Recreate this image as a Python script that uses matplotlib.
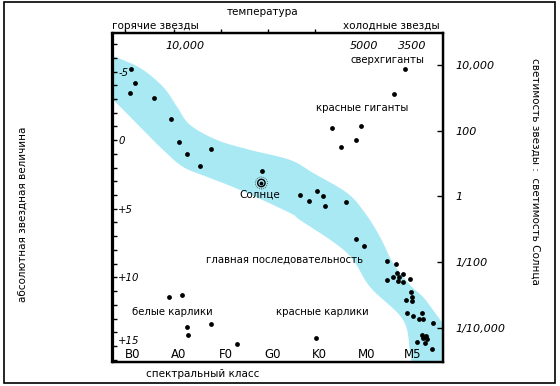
import matplotlib
matplotlib.use("Agg")
import matplotlib.pyplot as plt
from matplotlib.patches import Rectangle
import numpy as np

plt.rcParams['font.family'] = ['DejaVu Sans']

# ---------------- data ----------------
spectral_classes = ["B0", "A0", "F0", "G0", "K0", "M0", "M5"]
spectral_pos = [0, 1, 2, 3, 4, 5, 6]

mag_ticks = [-5, 0, 5, 10, 15]
mag_labels = ["-5", "0", "+5", "+10", "+15"]

lum_values = [1e4, 1e2, 1.0, 1e-2, 1e-4]
lum_labels = ["10,000", "100", "1", "1/100", "1/10,000"]

temp_labels = ["10,000", "5000", "3500"]
temp_pos = [1.13, 4.95, 5.98]
top_tick_pos = [-0.15, 0.9, 1.9, 2.9, 3.9]

# main-sequence band edges (spectral index, abs. magnitude)
band_upper_x = [-0.6, -0.406, 0.171, 0.662, 0.961, 1.238, 1.815, 2.52, 3.374,
                3.865, 4.591, 4.975, 5.296, 5.573, 5.936, 6.214, 6.427, 6.75]
band_upper_y = [-6.5, -6.14, -5.26, -3.88, -2.42, -1.11, -0.01, 0.71, 1.44,
                2.39, 3.85, 5.31, 7.06, 8.95, 10.55, 11.43, 12.38, 13.9]
band_lower_x = [-0.6, -0.406, 0.171, 0.662, 1.089, 1.602, 2.306, 3.374, 3.587,
                4.591, 5.082, 5.787, 5.936, 6.0]
band_lower_y = [-3.3, -2.93, -0.96, 0.71, 1.95, 2.68, 3.63, 5.31, 5.82,
                8.22, 10.70, 13.10, 15.51, 17.0]

# stars: spectral index, absolute magnitude
star_x = [-0.02, 0.06, -0.04, 0.47, 0.83, 1.00, 1.17, 1.69, 1.45, 2.78,
          5.83, 5.59, 4.27, 4.89, 4.78, 4.46,
          3.59, 3.78, 3.95, 4.08, 4.13, 4.57, 4.78, 4.95,
          5.45, 5.64, 5.66, 5.57, 5.70, 5.79, 5.45, 5.68, 5.79, 5.94,
          5.96, 5.98, 5.85, 5.98, 5.87, 6.00, 6.19, 6.13, 6.21, 6.43,
          6.19, 6.28, 6.30, 6.21, 6.09, 6.26, 6.41,
          0.79, 1.07, 1.17, 1.20, 1.69, 2.24,
          3.93]
star_mag = [-5.19, -4.17, -3.44, -3.08, -1.55, 0.13, 1.01, 0.64, 1.88, 2.24,
            -5.19, -3.37, -0.92, -1.06, -0.04, 0.50,
            3.99, 4.43, 3.70, 4.07, 4.80, 4.50, 7.20, 7.71,
            8.81, 9.02, 9.68, 9.97, 9.97, 9.75, 10.19, 10.26, 10.34, 10.12,
            11.06, 11.43, 11.65, 11.72, 12.59, 12.81, 12.59, 13.03, 13.03, 13.33,
            14.20, 14.27, 14.49, 14.42, 14.71, 14.78, 15.22,
            11.43, 11.28, 13.62, 14.20, 13.40, 14.86,
            14.42]

sun_x, sun_mag = 2.76, 3.12

region_labels = ["сверхгиганты", "красные гиганты", "главная последовательность",
                 "белые карлики", "красные карлики"]
region_x = [5.45, 4.91, 3.25, 0.85, 4.06]
region_y = [-5.85, -2.34, 8.73, 12.52, 12.52]


def lum_to_mag(L):
    return 4.1 - 2.4 * np.log10(L)


def smooth_edge(xs, ys, n=16):
    """Catmull-Rom curve through the edge points of the hand-drawn band."""
    p = np.column_stack([xs, ys]).astype(float)
    p = np.vstack([p[0] - (p[1] - p[0]), p, p[-1] + (p[-1] - p[-2])])
    out = []
    for i in range(1, len(p) - 2):
        p0, p1, p2, p3 = p[i - 1], p[i], p[i + 1], p[i + 2]
        for t in np.linspace(0, 1, n, endpoint=False):
            t2, t3 = t * t, t * t * t
            out.append(0.5 * ((2 * p1) + (-p0 + p2) * t + (2 * p0 - 5 * p1 + 4 * p2 - p3) * t2
                              + (-p0 + 3 * p1 - 3 * p2 + p3) * t3))
    out.append(p[-2])
    out = np.array(out)
    return list(out[:, 0]), list(out[:, 1])


# ---------------- figure ----------------
fig = plt.figure(figsize=(5.6, 3.86), dpi=100)
fig.patch.set_facecolor("white")
ax = fig.add_axes([112.5 / 560, 1 - 362 / 386, (443 - 112.5) / 560, (362 - 32.5) / 386])

ax.set_xlim(-0.42, 6.64)
ax.set_ylim(16.17, -7.85)

band_color = "#a8e9f4"
ux, uy = smooth_edge(band_upper_x, band_upper_y)
lx, ly = smooth_edge(band_lower_x, band_lower_y)
poly_x = ux + [6.75] + lx[::-1]
poly_y = uy + [17.0] + ly[::-1]
ax.fill(poly_x, poly_y, color=band_color, lw=0, zorder=1)

ax.scatter(star_x, star_mag, s=12, color="black", zorder=3, lw=0)

# Sun symbol
ax.scatter([sun_x], [sun_mag], s=28, facecolor="none", edgecolor="black", lw=1.0, zorder=4)
ax.scatter([sun_x], [sun_mag], s=3, color="black", zorder=4)
ax.scatter([sun_x], [sun_mag], s=75, facecolor="none", edgecolor="#333333", lw=0.6,
           linestyle=(0, (1, 1.5)), zorder=4)
ax.text(sun_x - 0.03, sun_mag + 0.45, "Солнце", ha="center", va="top", fontsize=7.5, zorder=5)

for lab, x, y in zip(region_labels, region_x, region_y):
    ax.text(x, y, lab, ha="center", va="center", fontsize=7.3)

for lab, x in zip(temp_labels, temp_pos):
    ax.text(x, -6.9, lab, ha="center", va="center", fontsize=8, style="italic")

for s in ax.spines.values():
    s.set_linewidth(1.6)

# bottom: spectral classes inside the frame
ax.set_xticks(spectral_pos)
ax.set_xticklabels(spectral_classes, fontsize=8.5)
ax.tick_params(axis="x", length=0, pad=-3)
for t in ax.get_xticklabels():
    t.set_va("baseline")

# left: magnitudes inside the frame
ax.set_yticks(mag_ticks)
ax.set_yticklabels(mag_labels, fontsize=7.3, style="italic")
ax.set_yticks(np.arange(-7, 17, 1), minor=True)
ax.tick_params(axis="y", which="both", direction="in", length=3, width=1, pad=-4)
ylabs = ax.get_yticklabels()
for t in ylabs:
    t.set_ha("left")
ylabs[-1].set_va("bottom")

# right: luminosity
ax2 = ax.twinx()
ax2.set_ylim(ax.get_ylim())
ax2.set_yticks([lum_to_mag(L) for L in lum_values])
ax2.set_yticklabels(lum_labels, fontsize=8, style="italic")
ax2.tick_params(axis="y", direction="in", length=4, width=1, pad=9)
for s in ax2.spines.values():
    s.set_linewidth(1.6)

# top: temperature ticks
ax3 = ax.twiny()
ax3.set_xlim(ax.get_xlim())
ax3.set_xticks(top_tick_pos)
ax3.set_xticklabels([""] * len(top_tick_pos))
ax3.tick_params(axis="x", direction="out", length=3, width=1)

# titles around the frame
fig.text(263 / 560, 1 - 12 / 386, "температура", ha="center", va="center", fontsize=7.5)
fig.text(155 / 560, 1 - 26 / 386, "горячие звезды", ha="center", va="center", fontsize=7.5)
fig.text(391 / 560, 1 - 26 / 386, "холодные звезды", ha="center", va="center", fontsize=7.5)
fig.text(203 / 560, 1 - 374 / 386, "спектральный класс", ha="center", va="center", fontsize=7.5)
fig.text(23 / 560, 1 - 214 / 386, "абсолютная звездная величина", ha="center", va="center",
         rotation=90, fontsize=7.5)
fig.text(535 / 560, 1 - 171 / 386, "светимость звезды :  светимость Солнца", ha="center",
         va="center", rotation=-90, fontsize=7.5)

fig.patches.append(Rectangle((4 / 560, 3 / 386), 551 / 560, 381 / 386, transform=fig.transFigure,
                             fill=False, lw=1.2, edgecolor="black"))

fig.savefig("out.png", dpi=100)
